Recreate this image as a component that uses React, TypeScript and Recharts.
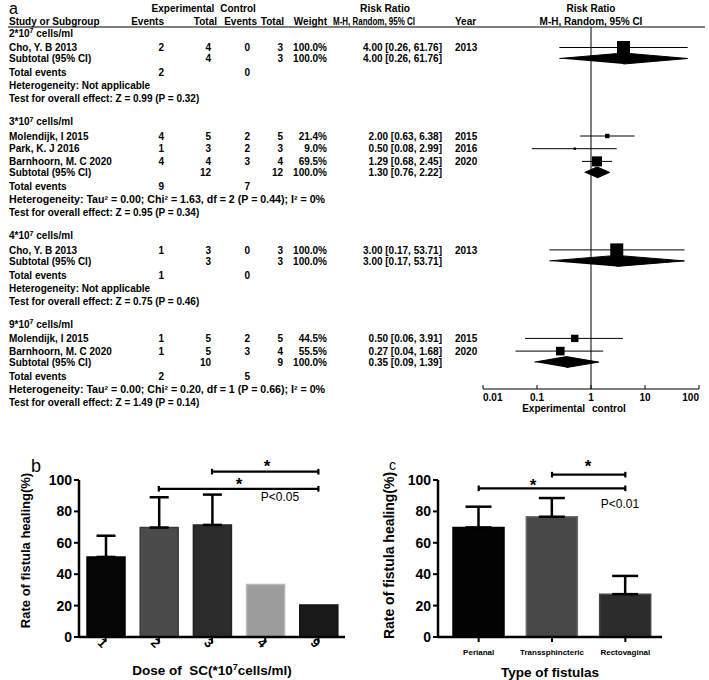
import React from 'react'
import { ScatterChart, Scatter, XAxis, YAxis, ErrorBar, ReferenceLine, BarChart, Bar, Cell, Label } from 'recharts'

// ---- a: forest plot data ----
const groupLabels = ['2', '3', '4', '9'] // *10^7 cells/ml
const studyNames = ['Cho, Y. B 2013', 'Molendijk, I 2015', 'Park, K. J 2016', 'Barnhoorn, M. C 2020', 'Cho, Y. B 2013', 'Molendijk, I 2015', 'Barnhoorn, M. C 2020']
const studyGroup = [0, 1, 1, 1, 2, 3, 3]
const expEvents = [2, 4, 1, 4, 1, 1, 1]
const expTotals = [4, 5, 3, 4, 3, 5, 5]
const ctlEvents = [0, 2, 2, 3, 0, 2, 3]
const ctlTotals = [3, 5, 3, 4, 3, 5, 4]
const weights = [100, 21.4, 9.0, 69.5, 100, 44.5, 55.5]
const riskRatios = [4.0, 2.0, 0.5, 1.29, 3.0, 0.5, 0.27]
const ciLow = [0.26, 0.63, 0.08, 0.68, 0.17, 0.06, 0.04]
const ciHigh = [61.76, 6.38, 2.99, 2.45, 53.71, 3.91, 1.68]
const years = [2013, 2015, 2016, 2020, 2013, 2015, 2020]

const subRR = [4.0, 1.3, 3.0, 0.35]
const subLow = [0.26, 0.76, 0.17, 0.09]
const subHigh = [61.76, 2.22, 53.71, 1.39]
const subExpTotal = [4, 12, 3, 10]
const subCtlTotal = [3, 12, 3, 9]
const totalExpEvents = [2, 9, 1, 2]
const totalCtlEvents = [0, 7, 0, 5]
const heterogeneity = [
  'Not applicable',
  'Tau² = 0.00; Chi² = 1.63, df = 2 (P = 0.44); I² = 0%',
  'Not applicable',
  'Tau² = 0.00; Chi² = 0.20, df = 1 (P = 0.66); I² = 0%',
]
const overallEffect = ['Z = 0.99 (P = 0.32)', 'Z = 0.95 (P = 0.34)', 'Z = 0.75 (P = 0.46)', 'Z = 1.49 (P = 0.14)']
const rrTicks = [0.01, 0.1, 1, 10, 100]

// ---- b: healing rate by dose ----
const doseLabels = ['1', '2', '3', '4', '9']
const doseRates = [51, 69.7, 71.4, 33.4, 20.4]
const doseErrUpper = [13.5, 19.3, 19.3, null, null]
const doseFills = ['#050505', '#4b4b4b', '#2c2c2c', '#9c9c9c', '#1a1a1a']
const doseStrokes = ['#000000', '#3a3a3a', '#222222', '#b8b8b8', '#111111']

// ---- c: healing rate by fistula type ----
const fistulaTypes = ['Perianal', 'Transsphincteric', 'Rectovaginal']
const fistulaRates = [69.8, 76.6, 27.3]
const fistulaErrUpper = [13.2, 11.9, 11.6]
const fistulaFills = ['#030303', '#474747', '#2c2c2c']
const fistulaStrokes = ['#000000', '#6a6a6a', '#474747']

const rateTicks = [0, 20, 40, 60, 80, 100]

const FONT = '"Liberation Sans", Arial, Helvetica, sans-serif'
const PLOT_TOP = 27
const PLOT_H = 362
const DIAMOND_H = 5.5

type Row = { y: number; kind: string; g: number; s?: number }

// row layout of the forest table (page y of each text line)
const buildRows = (): Row[] => {
  const rows: Row[] = []
  let y = 33
  groupLabels.forEach((_, g) => {
    if (g > 0) y += 23
    rows.push({ y, kind: 'group', g })
    const ids = studyGroup.map((sg, i) => (sg === g ? i : -1)).filter((i) => i >= 0)
    ids.forEach((s, k) => {
      y += k === 0 ? 14.5 : 12.7
      rows.push({ y, kind: 'study', g, s })
    })
    y += 11
    rows.push({ y, kind: 'subtotal', g })
    y += 14
    rows.push({ y, kind: 'total', g })
    y += 13
    rows.push({ y, kind: 'het', g })
    y += 13
    rows.push({ y, kind: 'test', g })
  })
  return rows
}

const rrText = (rr: number, lo: number, hi: number) => `${rr.toFixed(2)} [${lo.toFixed(2)}, ${hi.toFixed(2)}]`

const T = ({ x, y, anchor = 'start', size = 10, weight = 'bold', len, children }: any) => (
  <text
    x={x}
    y={y}
    textAnchor={anchor}
    fontSize={size}
    fontWeight={weight}
    fontFamily={FONT}
    fill="#000"
    textLength={len}
    lengthAdjust={len ? 'spacingAndGlyphs' : undefined}
  >
    {children}
  </text>
)

const Square = (props: any) => {
  const { cx, cy, payload } = props
  const s = 13 * Math.pow(payload.w / 100, 0.7)
  return <rect x={cx - s / 2} y={cy - s / 2} width={s} height={s} fill="#000" />
}

const RRTick = (props: any) => {
  const { x, y, payload } = props
  const v = payload.value
  const anchor = v === rrTicks[0] ? 'start' : v === rrTicks[rrTicks.length - 1] ? 'end' : 'middle'
  return (
    <g>
      <line x1={x} x2={x} y1={y - 4} y2={y} stroke="#000" />
      <text x={x} y={y + 12} textAnchor={anchor} fontSize={10} fontWeight="bold" fontFamily={FONT} fill="#000">
        {String(v)}
      </text>
    </g>
  )
}

const ForestPlot = ({ rows }: { rows: Row[] }) => {
  const studyPoints = rows
    .filter((r) => r.kind === 'study')
    .map((r) => {
      const i = r.s as number
      return { x: riskRatios[i], y: r.y - PLOT_TOP, ci: [riskRatios[i] - ciLow[i], ciHigh[i] - riskRatios[i]], w: weights[i] }
    })
  const diamonds = rows
    .filter((r) => r.kind === 'subtotal')
    .map((r) => {
      const g = r.g
      const yy = r.y - PLOT_TOP
      return [
        { x: subLow[g], y: yy },
        { x: subRR[g], y: yy - DIAMOND_H },
        { x: subHigh[g], y: yy },
        { x: subRR[g], y: yy + DIAMOND_H },
      ]
    })
  return (
    <ScatterChart width={709} height={420} margin={{ top: PLOT_TOP, right: 10, bottom: 0, left: 483 }}>
      <XAxis
        type="number"
        dataKey="x"
        scale="log"
        domain={[0.01, 100]}
        allowDataOverflow
        ticks={rrTicks}
        interval={0}
        axisLine={{ stroke: '#000' }}
        tickLine={false}
        tickSize={0}
        tickMargin={0}
        tick={RRTick}
        height={31}
      />
      <YAxis type="number" dataKey="y" domain={[0, PLOT_H]} reversed hide allowDataOverflow width={0} />
      <ReferenceLine x={1} stroke="#000" />
      {diamonds.map((d, i) => (
        <Scatter
          key={i}
          data={d}
          fill="#000"
          line={{ fill: '#000', stroke: '#000', strokeWidth: 1 }}
          shape={() => <g />}
          isAnimationActive={false}
        />
      ))}
      <Scatter data={studyPoints} fill="#000" shape={Square} isAnimationActive={false}>
        <ErrorBar dataKey="ci" direction="x" width={0} stroke="#000" strokeWidth={1} />
      </Scatter>
    </ScatterChart>
  )
}

const ForestText = ({ rows }: { rows: Row[] }) => {
  const out: React.ReactNode[] = []
  rows.forEach((r, k) => {
    const y = r.y + 3.6
    const g = r.g
    if (r.kind === 'group') {
      out.push(
        <T key={k} x={9} y={y}>
          {`${groupLabels[g]}*10`}
          <tspan dy={-3.5} fontSize={7}>7</tspan>
          <tspan dy={3.5}> cells/ml</tspan>
        </T>
      )
    } else if (r.kind === 'study') {
      const i = r.s as number
      out.push(
        <g key={k}>
          <T x={9} y={y}>{studyNames[i]}</T>
          <T x={164} y={y} anchor="end">{expEvents[i]}</T>
          <T x={211} y={y} anchor="end">{expTotals[i]}</T>
          <T x={250} y={y} anchor="end">{ctlEvents[i]}</T>
          <T x={283} y={y} anchor="end">{ctlTotals[i]}</T>
          <T x={327} y={y} anchor="end">{`${weights[i].toFixed(1)}%`}</T>
          <T x={442} y={y} anchor="end">{rrText(riskRatios[i], ciLow[i], ciHigh[i])}</T>
          <T x={455} y={y}>{years[i]}</T>
        </g>
      )
    } else if (r.kind === 'subtotal') {
      const sum = weights.filter((_, i) => studyGroup[i] === g).reduce((a, b) => a + b, 0)
      out.push(
        <g key={k}>
          <T x={9} y={y}>Subtotal (95% CI)</T>
          <T x={211} y={y} anchor="end">{subExpTotal[g]}</T>
          <T x={283} y={y} anchor="end">{subCtlTotal[g]}</T>
          <T x={327} y={y} anchor="end">{`${Math.round(sum).toFixed(1)}%`}</T>
          <T x={442} y={y} anchor="end">{rrText(subRR[g], subLow[g], subHigh[g])}</T>
        </g>
      )
    } else if (r.kind === 'total') {
      out.push(
        <g key={k}>
          <T x={9} y={y}>Total events</T>
          <T x={164} y={y} anchor="end">{totalExpEvents[g]}</T>
          <T x={250} y={y} anchor="end">{totalCtlEvents[g]}</T>
        </g>
      )
    } else if (r.kind === 'het') {
      const long = heterogeneity[g].length > 20
      out.push(
        <T key={k} x={9} y={y} len={long ? 316 : undefined}>
          {`Heterogeneity: ${heterogeneity[g]}`}
        </T>
      )
    } else {
      out.push(<T key={k} x={9} y={y}>{`Test for overall effect: ${overallEffect[g]}`}</T>)
    }
  })
  return <g>{out}</g>
}

const RateLabel = (props: any) => {
  const vb = props.viewBox
  const cx = vb.x + props.dxPos
  const cy = vb.y + vb.height / 2 + props.dyPos
  return (
    <text
      x={cx}
      y={cy}
      transform={`rotate(-90, ${cx}, ${cy})`}
      textAnchor="middle"
      dominantBaseline="central"
      fontSize={props.size}
      fontWeight="bold"
      fontFamily={FONT}
      fill="#000"
    >
      Rate of fistula healing(%)
    </text>
  )
}

const DoseTitle = (props: any) => {
  const vb = props.viewBox
  const cx = vb.x + vb.width / 2
  return (
    <text x={cx} y={vb.y + 38} textAnchor="middle" fontSize={13.5} fontWeight="bold" fontFamily={FONT} fill="#000">
      {'Dose of\u00a0 SC(*10'}
      <tspan dy={-5} fontSize={9}>7</tspan>
      <tspan dy={5}>cells/ml)</tspan>
    </text>
  )
}

const TypeTitle = (props: any) => {
  const vb = props.viewBox
  const cx = vb.x + vb.width / 2
  return (
    <text x={cx} y={vb.y + 40} textAnchor="middle" fontSize={13.5} fontWeight="bold" fontFamily={FONT} fill="#000">
      Type of fistulas
    </text>
  )
}

const DoseTick = (props: any) => {
  const { x, y, payload } = props
  const tx = x - 3
  const ty = y - 1
  return (
    <text
      x={tx}
      y={ty}
      transform={`rotate(45, ${tx}, ${ty})`}
      textAnchor="middle"
      dominantBaseline="central"
      fontSize={13}
      fontWeight="bold"
      fontFamily={FONT}
      fill="#000"
    >
      {payload.value}
    </text>
  )
}

const axisLine = { stroke: '#000', strokeWidth: 2.5 }
const tickLine = { stroke: '#000', strokeWidth: 2 }
const yTick = { fill: '#000', fontSize: 14, fontWeight: 'bold', fontFamily: FONT }

const DoseChart = () => {
  const data = doseLabels.map((d, i) => ({
    dose: d,
    rate: doseRates[i],
    err: doseErrUpper[i] == null ? undefined : [0, doseErrUpper[i]],
  }))
  const br = { stroke: '#000', strokeWidth: 2.2, ifOverflow: 'visible' as const }
  return (
    <BarChart width={360} height={240} data={data} margin={{ top: 40, right: 15, bottom: 0, left: 0 }}>
      <XAxis dataKey="dose" axisLine={axisLine} tickLine={tickLine} tickSize={5} tick={DoseTick} interval={0} height={43}>
        <Label content={DoseTitle} />
      </XAxis>
      <YAxis
        domain={[0, 100]}
        ticks={rateTicks}
        interval={0}
        width={79}
        axisLine={axisLine}
        tickLine={tickLine}
        tickSize={5}
        tick={yTick}
      >
        <Label content={(p: any) => <RateLabel {...p} dxPos={25} dyPos={-8} size={13} />} />
      </YAxis>
      <Bar dataKey="rate" barSize={38} strokeWidth={1.5} isAnimationActive={false}>
        {data.map((_, i) => (
          <Cell key={i} fill={doseFills[i]} stroke={doseStrokes[i]} />
        ))}
        <ErrorBar dataKey="err" direction="y" width={9.5} stroke="#000" strokeWidth={2.5} />
      </Bar>
      <ReferenceLine segment={[{ x: '3', y: 105.3 }, { x: '9', y: 105.3 }]} {...br} />
      <ReferenceLine segment={[{ x: '3', y: 103.5 }, { x: '3', y: 107.1 }]} {...br} />
      <ReferenceLine segment={[{ x: '9', y: 103.5 }, { x: '9', y: 107.1 }]} {...br} />
      <ReferenceLine segment={[{ x: '2', y: 94.4 }, { x: '9', y: 94.4 }]} {...br} />
      <ReferenceLine segment={[{ x: '2', y: 92.6 }, { x: '2', y: 96.2 }]} {...br} />
      <ReferenceLine segment={[{ x: '9', y: 92.6 }, { x: '9', y: 96.2 }]} {...br} />
    </BarChart>
  )
}

const FistulaChart = () => {
  const data = fistulaTypes.map((t, i) => ({ type: t, rate: fistulaRates[i], err: [0, fistulaErrUpper[i]] }))
  const br = { stroke: '#000', strokeWidth: 2.2, ifOverflow: 'visible' as const }
  const [p, t, r] = fistulaTypes
  return (
    <BarChart width={349} height={240} data={data} margin={{ top: 40, right: 47, bottom: 0, left: 0 }}>
      <XAxis
        dataKey="type"
        axisLine={axisLine}
        tickLine={tickLine}
        tickSize={5}
        tickMargin={7}
        tick={{ fill: '#000', fontSize: 8, fontWeight: 'bold', fontFamily: FONT }}
        interval={0}
        height={43}
        padding={{ left: 4, right: 0 }}
      >
        <Label content={TypeTitle} />
      </XAxis>
      <YAxis
        domain={[0, 100]}
        ticks={rateTicks}
        interval={0}
        width={78}
        axisLine={axisLine}
        tickLine={tickLine}
        tickSize={5}
        tick={yTick}
      >
        <Label content={(pp: any) => <RateLabel {...pp} dxPos={29} dyPos={-3} size={14} />} />
      </YAxis>
      <Bar dataKey="rate" barSize={51} strokeWidth={1.5} isAnimationActive={false}>
        {data.map((_, i) => (
          <Cell key={i} fill={fistulaFills[i]} stroke={fistulaStrokes[i]} />
        ))}
        <ErrorBar dataKey="err" direction="y" width={13} stroke="#000" strokeWidth={2.5} />
      </Bar>
      <ReferenceLine segment={[{ x: t, y: 103.4 }, { x: r, y: 103.4 }]} {...br} />
      <ReferenceLine segment={[{ x: t, y: 101.6 }, { x: t, y: 105.2 }]} {...br} />
      <ReferenceLine segment={[{ x: r, y: 101.6 }, { x: r, y: 105.2 }]} {...br} />
      <ReferenceLine segment={[{ x: p, y: 94.7 }, { x: r, y: 94.7 }]} {...br} />
      <ReferenceLine segment={[{ x: p, y: 92.9 }, { x: p, y: 96.5 }]} {...br} />
      <ReferenceLine segment={[{ x: r, y: 92.9 }, { x: r, y: 96.5 }]} {...br} />
    </BarChart>
  )
}

export default function App() {
  const rows = buildRows()
  return (
    <div style={{ position: 'absolute', left: 0, top: 0, width: 709, height: 680, background: '#fff', overflow: 'hidden' }}>
      <div style={{ position: 'absolute', left: 0, top: 0 }}>
        <ForestPlot rows={rows} />
      </div>
      <div style={{ position: 'absolute', left: 0, top: 440 }}>
        <DoseChart />
      </div>
      <div style={{ position: 'absolute', left: 360, top: 440 }}>
        <FistulaChart />
      </div>
      <svg width={709} height={680} style={{ position: 'absolute', left: 0, top: 0, pointerEvents: 'none' }}>
        {/* panel a header */}
        <T x={9} y={13.5} size={16} weight="normal">a</T>
        <T x={183} y={11.5} anchor="middle">Experimental</T>
        <T x={238} y={11.5} anchor="middle">Control</T>
        <T x={360} y={11.5} len={50}>Risk Ratio</T>
        <T x={591} y={11.5} anchor="middle">Risk Ratio</T>
        <T x={9} y={25}>Study or Subgroup</T>
        <T x={164} y={25} anchor="end">Events</T>
        <T x={217} y={25} anchor="end">Total</T>
        <T x={257} y={25} anchor="end">Events</T>
        <T x={284} y={25} anchor="end">Total</T>
        <T x={327} y={25} anchor="end">Weight</T>
        <T x={333} y={25} len={82}>M-H, Random, 95% CI</T>
        <T x={455} y={25}>Year</T>
        <T x={591} y={25} anchor="middle">M-H, Random, 95% CI</T>
        <line x1={8} x2={705} y1={27} y2={27} stroke="#000" />
        <ForestText rows={rows} />
        <T x={585} y={412} anchor="end">Experimental</T>
        <T x={592} y={412}>control</T>

        {/* panel b / c annotations */}
        <T x={31} y={472} size={18} weight="normal">b</T>
        <T x={389} y={470} size={14} weight="normal">c</T>
        <T x={267} y={472} anchor="middle" size={17}>*</T>
        <T x={239} y={490} anchor="middle" size={17}>*</T>
        <T x={280} y={501} anchor="middle" size={12} weight="normal">P&lt;0.05</T>
        <T x={588} y={472} anchor="middle" size={17}>*</T>
        <T x={533} y={491} anchor="middle" size={17}>*</T>
        <T x={620} y={508} anchor="middle" size={12} weight="normal">P&lt;0.01</T>
      </svg>
    </div>
  )
}
